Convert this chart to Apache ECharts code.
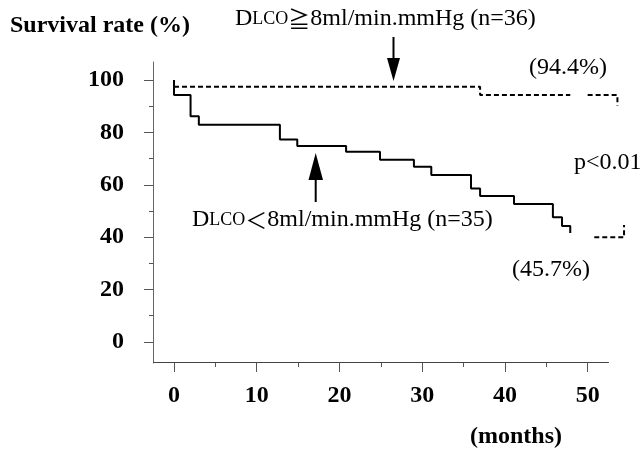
<!DOCTYPE html>
<html>
<head>
<meta charset="utf-8">
<script src="https://cdn.jsdelivr.net/npm/echarts@6/dist/echarts.min.js"></script>
<style>
  html, body { margin: 0; padding: 0; background: #fff; }
  #chart { width: 644px; height: 450px; }
</style>
</head>
<body>
<div id="chart"></div>
<script>
// Kaplan-Meier curves
const lowMonths = [0, 0, 2.0, 3.0, 12.8, 14.9, 20.8, 24.9, 29.0, 31.1, 35.9, 37.0, 41.1, 45.8, 46.9, 47.9]
const lowSurvival = [100, 94.3, 86.2, 82.9, 77.3, 74.8, 72.6, 69.6, 66.9, 63.7, 58.6, 55.7, 52.6, 47.6, 44.2, 41.6]
const lowTailMonths = [50.8, 54.4, 54.4]
const lowTailSurvival = [39.9, 39.9, 44.6]

const highMonths = [0, 37.0, 47.9]
const highSurvival = [97.4, 94.3, 94.3]
const highTailMonths = [50.0, 53.6, 53.6]
const highTailSurvival = [94.3, 94.3, 90.2]

const xMajorTicks = [0, 10, 20, 30, 40, 50]
const xMinorTicks = [5, 15, 25, 35, 45]
const yMajorTicks = [0, 20, 40, 60, 80, 100]
const yMinorTicks = [10, 30, 50, 70, 90]

const serif = '"Liberation Serif", "Times New Roman", serif'
const cjk = '"Noto Sans CJK JP", "Noto Sans CJK SC", sans-serif'

const zip = (xs, ys) => xs.map((x, i) => [x, ys[i]])

const chart = echarts.init(document.getElementById('chart'))

// the curves run past the end of the drawn x axis line
const xRange = { min: -2.54, max: 55 }
const xLineEnd = 52.57
const yRange = { min: -8.1, max: 106.9 }

const labelRich = {
  d: { fontFamily: serif, fontSize: 24, color: '#000' },
  s: { fontFamily: serif, fontSize: 18, color: '#000' },
  k: { fontFamily: cjk, fontSize: 22, color: '#000' }
}

const option = {
  animation: false,
  backgroundColor: '#fff',
  grid: { left: 153, right: 15, top: 62, bottom: 87 },
  xAxis: [
    {
      type: 'value', ...xRange,
      splitLine: { show: false },
      axisLine: { show: false, onZero: false },
      axisTick: { customValues: xMajorTicks, length: 9, lineStyle: { color: '#555' } },
      axisLabel: {
        customValues: xMajorTicks, margin: 21, color: '#000',
        fontFamily: serif, fontWeight: 'bold', fontSize: 24
      }
    },
    {
      type: 'value', ...xRange, position: 'bottom',
      splitLine: { show: false },
      axisLine: { show: false, onZero: false },
      axisTick: { customValues: xMinorTicks, length: 4, lineStyle: { color: '#555' } },
      axisLabel: { show: false }
    }
  ],
  yAxis: [
    {
      type: 'value', ...yRange,
      splitLine: { show: false },
      axisLine: { show: true, onZero: false, lineStyle: { color: '#666', width: 1 } },
      axisTick: { show: true, customValues: yMajorTicks, length: 9, lineStyle: { color: '#555' } },
      axisLabel: {
        customValues: yMajorTicks, margin: 29, color: '#000',
        fontFamily: serif, fontWeight: 'bold', fontSize: 24
      }
    },
    {
      type: 'value', ...yRange, position: 'left',
      splitLine: { show: false },
      axisLine: { show: false, onZero: false },
      axisTick: { show: true, customValues: yMinorTicks, length: 4, lineStyle: { color: '#555' } },
      axisLabel: { show: false }
    }
  ],
  series: [
    {
      name: 'DLCO<8', type: 'line', step: 'end', symbol: 'none', clip: false,
      data: zip(lowMonths, lowSurvival),
      lineStyle: { color: '#000', width: 2 },
      // x axis line, stopping short of the grid edge
      markLine: {
        silent: true, symbol: 'none', label: { show: false },
        lineStyle: { color: '#444', width: 1, type: 'solid' },
        data: [[{ coord: [xRange.min, yRange.min + 0.2] }, { coord: [xLineEnd, yRange.min + 0.2] }]]
      }
    },
    {
      name: 'DLCO<8 tail', type: 'line', symbol: 'none',
      data: zip(lowTailMonths, lowTailSurvival),
      lineStyle: { color: '#000', width: 2, type: [5, 3] }
    },
    {
      name: 'DLCO>=8', type: 'line', step: 'end', symbol: 'none',
      data: zip(highMonths, highSurvival),
      lineStyle: { color: '#000', width: 2, type: [5, 3] }
    },
    {
      name: 'DLCO>=8 tail', type: 'line', symbol: 'none',
      data: zip(highTailMonths, highTailSurvival),
      lineStyle: { color: '#000', width: 2, type: [5, 3] }
    }
  ],
  graphic: [
    {
      type: 'text', left: 10, top: 14,
      style: { text: 'Survival rate (%)', font: 'bold 24px ' + serif, fill: '#000' }
    },
    {
      type: 'text', left: 470, top: 425,
      style: { text: '(months)', font: 'bold 24px ' + serif, fill: '#000' }
    },
    {
      type: 'text', left: 235, top: 7,
      style: { text: '{d|D}{s|LCO}{k|≧}{d|8ml/min.mmHg (n=36)}', rich: labelRich }
    },
    {
      type: 'text', left: 192, top: 208,
      style: { text: '{d|D}{s|LCO}{k|＜}{d|8ml/min.mmHg (n=35)}', rich: labelRich }
    },
    {
      type: 'text', left: 529, top: 56,
      style: { text: '(94.4%)', font: '24px ' + serif, fill: '#000' }
    },
    {
      type: 'text', left: 574, top: 151,
      style: { text: 'p<0.01', font: '24px ' + serif, fill: '#000' }
    },
    {
      type: 'text', left: 512, top: 258,
      style: { text: '(45.7%)', font: '24px ' + serif, fill: '#000' }
    },
    // arrows
    { type: 'line', shape: { x1: 393.5, y1: 37, x2: 393.5, y2: 62 }, style: { stroke: '#000', lineWidth: 2 } },
    { type: 'polygon', shape: { points: [[387, 58], [400, 58], [393.5, 81]] }, style: { fill: '#000' } },
    { type: 'line', shape: { x1: 315.7, y1: 175, x2: 315.7, y2: 202 }, style: { stroke: '#000', lineWidth: 2 } },
    { type: 'polygon', shape: { points: [[308.5, 180], [323, 180], [315.7, 153]] }, style: { fill: '#000' } }
  ]
}

chart.setOption(option)
window.addEventListener('resize', () => {
  chart.resize()
})
</script>
</body>
</html>
